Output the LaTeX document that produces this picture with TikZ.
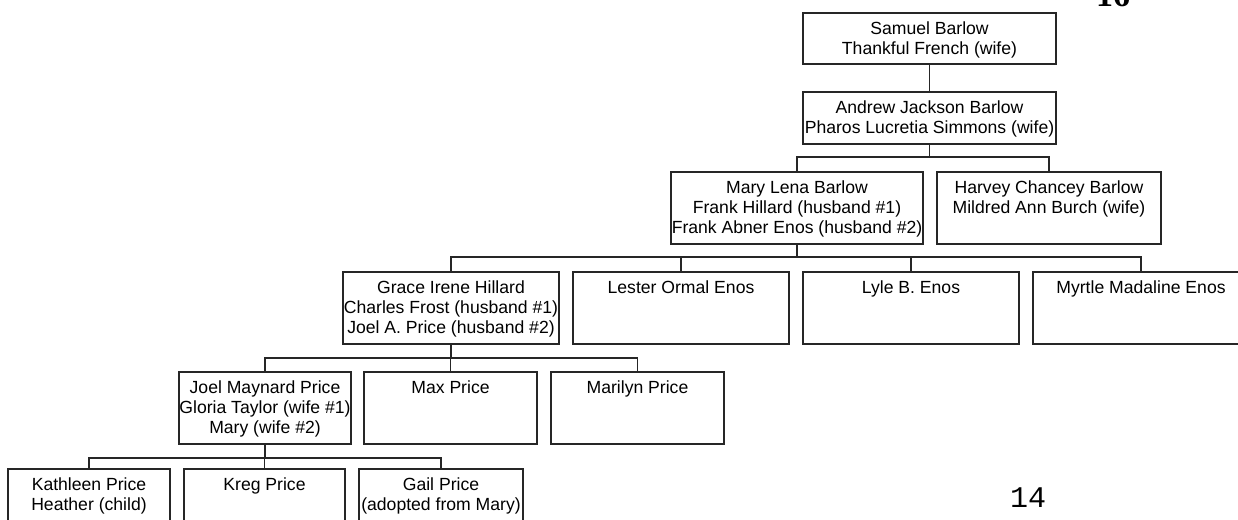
\documentclass[tikz,border=0pt]{standalone}
\usepackage{fontspec}
\setmainfont{Liberation Sans}
\newfontfamily\pgserif{Liberation Serif}
\newfontfamily\pgmono{Liberation Mono}
\tikzset{
  fbox/.style={draw=black!85, line width=1.1pt, inner sep=0pt, outer sep=0pt},
  ftext/.style={anchor=north, inner sep=0pt, align=center, text=black,
    font=\fontsize{17.6}{20}\selectfont},
  link/.style={draw=black!85, line width=1.1pt},
}
\newcommand\fambox[6]{%
  \begin{scope}
    \clip (#2,#3) rectangle (#4,#5);
    \node[ftext] (#1-t) at ({(#2+#4)/2},{#3+7.5}) {\strut #6};
  \end{scope}
  \node[fbox, minimum width={(#4-#2)*1pt}, minimum height={(#5-#3)*1pt},
    anchor=north west] (#1) at (#2,#3) {};
}
\begin{document}
\begin{tikzpicture}[x=1pt,y=-1pt]
\useasboundingbox (0,0) rectangle (1238,519);
\fill[white] (0,0) rectangle (1238,519);

\fambox{samuel}{803}{13}{1056}{64}{Samuel Barlow\\Thankful French (wife)}
\fambox{andrew}{803}{92}{1056}{144}{Andrew Jackson Barlow\\Pharos Lucretia Simmons (wife)}
\fambox{mary}{671}{172}{923}{244}{Mary Lena Barlow\\Frank Hillard (husband \#1)\\Frank Abner Enos (husband \#2)}
\fambox{harvey}{937}{172}{1161}{244}{Harvey Chancey Barlow\\Mildred Ann Burch (wife)}
\fambox{grace}{343}{272}{559}{344}{Grace Irene Hillard\\Charles Frost (husband \#1)\\Joel A. Price (husband \#2)}
\fambox{lester}{573}{272}{789}{344}{Lester Ormal Enos}
\fambox{lyle}{803}{272}{1019}{344}{Lyle B. Enos}
\fambox{myrtle}{1033}{272}{1249}{344}{Myrtle Madaline Enos}
\fambox{joel}{179}{372}{351}{444}{Joel Maynard Price\\Gloria Taylor (wife \#1)\\Mary (wife \#2)}
\fambox{max}{364}{372}{537}{444}{Max Price}
\fambox{marilyn}{551}{372}{724}{444}{Marilyn Price}
\fambox{kathleen}{8}{469}{170}{540}{Kathleen Price\\Heather (child)}
\fambox{kreg}{184}{469}{345}{540}{Kreg Price}
\fambox{gail}{359}{469}{523}{540}{Gail Price\\(adopted from Mary)}

% connectors
\draw[link] (samuel.south) -- (andrew.north);

\coordinate (b1) at (andrew.south |- 0,157);
\draw[link] (andrew.south) -- (b1);
\draw[link] (b1) -| (mary.north);
\draw[link] (b1) -| (harvey.north);

\coordinate (b2) at (mary.south |- 0,257);
\draw[link] (mary.south) -- (b2);
\draw[link] (b2) -| (grace.north);
\draw[link] (b2) -| (lester.north);
\draw[link] (b2) -| (lyle.north);
\draw[link] (b2) -| (myrtle.north);

\coordinate (b3) at (grace.south |- 0,358);
\draw[link] (grace.south) -- (b3);
\draw[link] (b3) -| (joel.north);
\draw[link] (b3) -| (max.north);
\draw[link] (b3) -| (marilyn.north);

\coordinate (b4) at (joel.south |- 0,458);
\draw[link] (joel.south) -- (b4);
\draw[link] (b4) -| (kathleen.north);
\draw[link] (b4) -| (kreg.north);
\draw[link] (b4) -| (gail.north);

% page numbers
\node[anchor=base, inner sep=0pt, font=\pgserif\bfseries\fontsize{34}{34}\selectfont] (pagetop) at (1113,7) {16};
\node[anchor=base, inner sep=0pt, font=\pgmono\fontsize{30}{30}\selectfont] (pagebottom) at (1028,507) {14};
\end{tikzpicture}
\end{document}
